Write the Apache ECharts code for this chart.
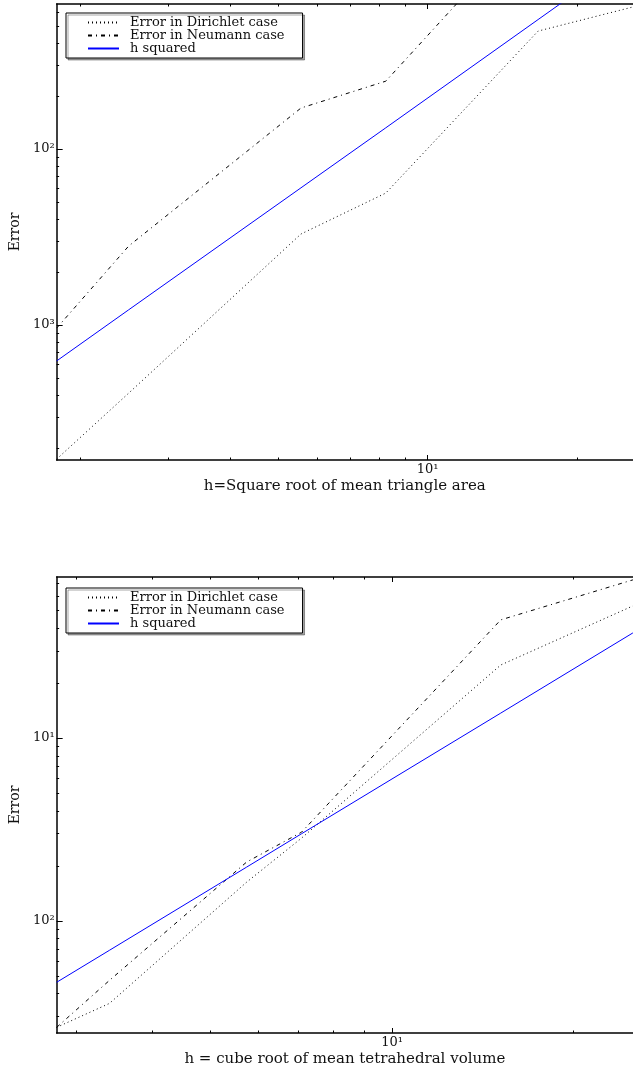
<!DOCTYPE html>
<html>
<head>
<meta charset="utf-8">
<script src="https://cdn.jsdelivr.net/npm/echarts@6.0.0/dist/echarts.min.js"></script>
<style>
html,body{margin:0;padding:0;background:#fff;}
#chart{width:633px;height:1070px;}
</style>
</head>
<body>
<div id="chart"></div>
<script>
// ---- Data: triangle (2D) case ----
const hTri   = [0.0179, 0.0250, 0.0556, 0.0824, 0.167, 0.259];
const dirTri = [1.73e-4, 4.1e-4, 3.29e-3, 5.62e-3, 0.0468, 0.0641];
const neuTri = [9.6e-4, 2.81e-3, 0.0171, 0.0243, 0.214, 0.36];
const sqTri  = [6.25e-4, 1.22e-3, 6.02e-3, 0.0132, 0.0544, 0.131];

// ---- Data: tetrahedral (3D) case ----
const hTet   = [0.0278, 0.0340, 0.0574, 0.0708, 0.1514, 0.2507];
const dirTet = [2.62e-3, 3.54e-3, 0.0163, 0.0284, 0.251, 0.528];
const neuTet = [2.62e-3, 4.73e-3, 0.0210, 0.0306, 0.443, 0.733];
const sqTet  = [4.62e-3, 6.91e-3, 0.0197, 0.0300, 0.137, 0.376];

// ---- Series names / texts ----
const seriesNames = ['Error in Dirichlet case', 'Error in Neumann case', 'h squared'];
const xNameTri = 'h=Square root of mean triangle area';
const xNameTet = 'h = cube root of mean tetrahedral volume';
const yName = 'Error';

// ---- Ticks (values) and tick labels (as printed) ----
const xMajorTri = [0.1];           const xMajorLabelsTri = ['10¹'];
const xMinorTri = [0.02,0.03,0.04,0.05,0.06,0.07,0.08,0.09,0.2];
const yMajorTri = [0.001, 0.01];   const yMajorLabelsTri = ['10³','10²'];
const yMinorTri = [2e-4,3e-4,4e-4,5e-4,6e-4,7e-4,8e-4,9e-4,0.002,0.003,0.004,0.005,0.006,0.007,0.008,0.009,0.02,0.03,0.04,0.05,0.06];

const xMajorTet = [0.1];           const xMajorLabelsTet = ['10¹'];
const xMinorTet = [0.03,0.04,0.05,0.06,0.07,0.08,0.09,0.2];
const yMajorTet = [0.01, 0.1];     const yMajorLabelsTet = ['10²','10¹'];
const yMinorTet = [0.003,0.004,0.005,0.006,0.007,0.008,0.009,0.02,0.03,0.04,0.05,0.06,0.07,0.08,0.09,0.2,0.3,0.4,0.5,0.6,0.7];

// ---- Axis ranges ----
const xRangeTri = [0.0179, 0.2594];
const yRangeTri = [1.71e-4, 0.0667];
const xRangeTet = [0.0278, 0.2508];
const yRangeTet = [0.00244, 0.760];

const FONT = 'DejaVu Serif';

function labelFn(values, labels){
  return function(v){
    for (let i=0;i<values.length;i++){
      if (Math.abs(Math.log10(v) - Math.log10(values[i])) < 1e-6) return labels[i];
    }
    return '';
  };
}

function xAxes(grid, range, major, majorLabels, minor, name){
  const base = {type:'log', logBase:10, gridIndex:grid, min:range[0], max:range[1],
    splitLine:{show:false}, minorTick:{show:false}, minorSplitLine:{show:false}};
  return [
    Object.assign({}, base, {position:'bottom',
      axisLine:{show:true, onZero:false, lineStyle:{color:'#000', width:1.5}},
      axisTick:{show:true, inside:true, length:5, customValues:major, lineStyle:{color:'#000', width:1}},
      axisLabel:{show:true, customValues:major, formatter:labelFn(major, majorLabels), color:'#111',
                 fontFamily:FONT, fontSize:13, margin:3},
      name:name, nameLocation:'middle', nameGap:19,
      nameTextStyle:{fontFamily:FONT, fontSize:15, color:'#111'}}),
    Object.assign({}, base, {position:'bottom',
      axisLine:{show:false},
      axisTick:{show:true, inside:true, length:2.5, customValues:minor, lineStyle:{color:'#000', width:1}},
      axisLabel:{show:false}}),
    Object.assign({}, base, {position:'top',
      axisLine:{show:true, onZero:false, lineStyle:{color:'#000', width:1.5}},
      axisTick:{show:true, inside:true, length:5, customValues:major, lineStyle:{color:'#000', width:1}},
      axisLabel:{show:false}}),
    Object.assign({}, base, {position:'top',
      axisLine:{show:false},
      axisTick:{show:true, inside:true, length:2.5, customValues:minor, lineStyle:{color:'#000', width:1}},
      axisLabel:{show:false}})
  ];
}

function yAxes(grid, range, major, majorLabels, minor){
  const base = {type:'log', logBase:10, gridIndex:grid, min:range[0], max:range[1], position:'left',
    splitLine:{show:false}, minorTick:{show:false}, minorSplitLine:{show:false}};
  return [
    Object.assign({}, base, {
      axisLine:{show:true, onZero:false, lineStyle:{color:'#000', width:1.5}},
      axisTick:{show:true, inside:true, length:6, customValues:major, lineStyle:{color:'#000', width:1}},
      axisLabel:{show:true, customValues:major, formatter:labelFn(major, majorLabels), color:'#111',
                 fontFamily:FONT, fontSize:13, margin:2},
      name:yName, nameLocation:'middle', nameGap:29, nameRotate:90,
      nameTextStyle:{fontFamily:FONT, fontSize:14, color:'#111'}}),
    Object.assign({}, base, {
      axisLine:{show:false},
      axisTick:{show:true, inside:true, length:2.5, customValues:minor, lineStyle:{color:'#000', width:1}},
      axisLabel:{show:false}})
  ];
}

function seriesFor(xi, yi, hs, dir, neu, sq){
  const common = {type:'line', xAxisIndex:xi, yAxisIndex:yi, symbol:'none', showSymbol:false,
    clip:true, silent:true, animation:false, emphasis:{disabled:true}};
  return [
    Object.assign({}, common, {name:seriesNames[0], data:hs.map((h,i)=>[h, dir[i]]),
      lineStyle:{color:'#000', width:1, type:[1,3]}, itemStyle:{color:'#000'}}),
    Object.assign({}, common, {name:seriesNames[1], data:hs.map((h,i)=>[h, neu[i]]),
      lineStyle:{color:'#000', width:1, type:[4,4,1,4]}, itemStyle:{color:'#000'}}),
    Object.assign({}, common, {name:seriesNames[2], data:hs.map((h,i)=>[h, sq[i]]),
      lineStyle:{color:'#0000ff', width:1, type:'solid'}, itemStyle:{color:'#0000ff'}})
  ];
}

function legendAt(top){
  return {
    data:seriesNames, orient:'vertical', left:66, top:top,
    itemWidth:31, itemHeight:13, itemGap:0,
    padding:[3,18,3,21],
    backgroundColor:'#fff', borderColor:'#000', borderWidth:1,
    shadowColor:'rgba(0,0,0,0.35)', shadowOffsetX:2, shadowOffsetY:2, shadowBlur:0,
    selectedMode:false,
    itemStyle:{color:'rgba(0,0,0,0)', borderColor:'rgba(0,0,0,0)', borderWidth:0},
    textStyle:{fontFamily:FONT, fontSize:13, color:'#111', lineHeight:13, padding:[0,0,0,6]}
  };
}

const chart = echarts.init(document.getElementById('chart'), null, {renderer:'canvas'});
chart.setOption({
  animation:false,
  backgroundColor:'#fff',
  grid:[
    {left:54, top:4, width:579, height:456, show:false},
    {left:54, top:577, width:579, height:456, show:false}
  ],
  xAxis:[].concat(
    xAxes(0, xRangeTri, xMajorTri, xMajorLabelsTri, xMinorTri, xNameTri),
    xAxes(1, xRangeTet, xMajorTet, xMajorLabelsTet, xMinorTet, xNameTet)
  ),
  yAxis:[].concat(
    yAxes(0, yRangeTri, yMajorTri, yMajorLabelsTri, yMinorTri),
    yAxes(1, yRangeTet, yMajorTet, yMajorLabelsTet, yMinorTet)
  ),
  legend:[legendAt(13), legendAt(588)],
  series:[].concat(
    seriesFor(0, 0, hTri, dirTri, neuTri, sqTri),
    seriesFor(4, 2, hTet, dirTet, neuTet, sqTet)
  )
});
</script>
</body>
</html>
